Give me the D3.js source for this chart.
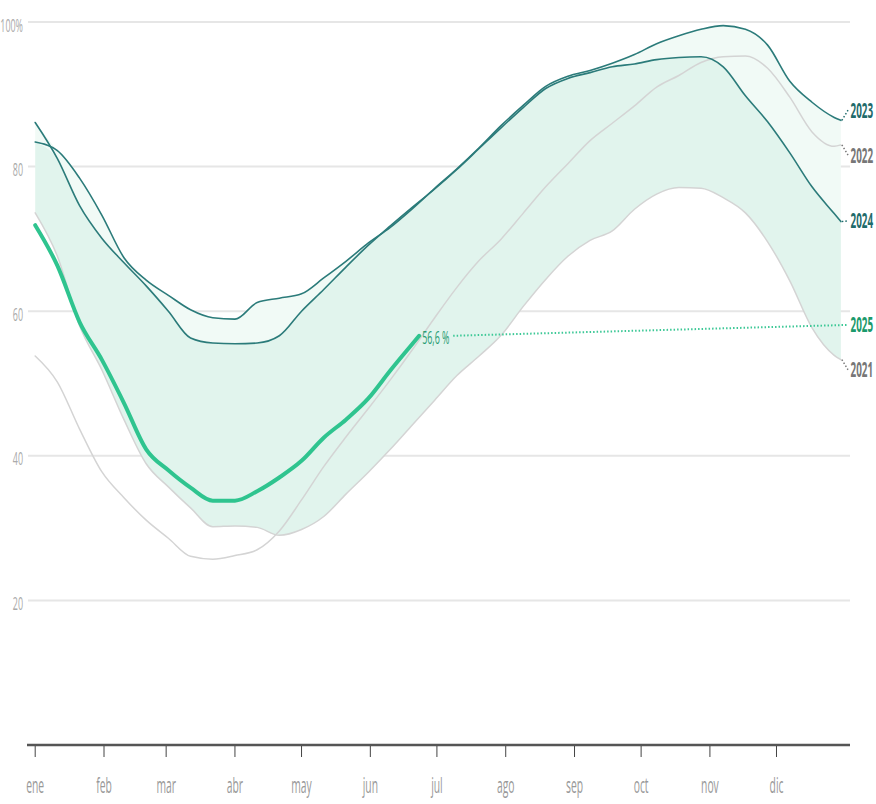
<!DOCTYPE html>
<html lang="es">
<head>
  <meta charset="utf-8">
  <title>Nivel de llenado</title>
  <script src="https://d3js.org/d3.v7.min.js"></script>
  <style>
    body { margin: 0; background: #fff; }
    svg text { font-family: "Open Sans", "DejaVu Sans", sans-serif; }
  </style>
</head>
<body>
<div id="chart"></div>
<script>
"use strict"
// dia del año de cada muestra
var days = [0,10,20,30,40,50,60,70,80,90,100,110,120,130,140,150,160,170,180,190,200,
            210,220,230,240,250,260,270,280,290,300,310,320,330,340,350,360,363]

var s2021 = [73.6,67.6,58.0,51.9,45.0,38.9,35.7,32.8,30.2,30.3,30.1,29.0,29.8,31.6,34.7,37.7,40.9,44.3,47.7,51.1,53.8,
             56.7,60.7,64.4,67.6,69.8,71.1,74.1,76.2,77.1,77.0,75.7,73.6,69.6,64.2,57.7,53.9,53.3]
var s2022 = [53.8,50.2,43.7,37.8,34.2,31.1,28.6,26.1,25.7,26.2,27.0,29.6,33.9,38.5,42.6,46.5,50.5,54.7,59.1,63.3,67.0,
             70.0,73.6,77.2,80.4,83.6,86.0,88.4,91.0,92.6,94.4,95.2,95.3,93.6,89.6,84.8,82.8,83.0]
var s2023 = [83.4,82.2,78.4,73.3,67.4,64.3,62.2,60.2,59.1,58.9,61.2,61.8,62.4,64.6,66.9,69.4,71.6,74.2,77.0,79.7,82.6,
             85.7,88.5,91.1,92.5,93.3,94.3,95.5,97.0,98.1,99.0,99.5,99.0,96.8,91.8,88.9,86.8,86.4]
var s2024 = [86.1,81.1,74.6,70.1,66.7,63.5,60.0,56.3,55.6,55.5,55.6,56.6,60.0,63.0,66.1,69.1,71.8,74.4,76.9,79.6,82.5,
             85.4,88.2,90.8,92.2,93.0,93.8,94.2,94.8,95.1,95.2,93.8,89.8,86.2,81.9,77.2,73.5,72.4]
// 2025 hasta el 22 de junio
var days2025 = [0,10,20,30,40,50,60,70,80,90,100,110,120,130,140,150,160,170,173]
var s2025 = [71.9,66.3,58.5,53.3,47.3,40.9,38.0,35.6,33.8,33.8,35.1,37.0,39.3,42.5,45.0,47.9,51.8,55.5,56.6]

var monthStarts = [0,31,59,90,120,151,181,212,243,273,304,334]
var monthNames = ["ene","feb","mar","abr","may","jun","jul","ago","sep","oct","nov","dic"]
var yTicks = [20,40,60,80,100]

var seriesLabels = ["2023","2022","2024","2025","2021"]
var labelValues = [87.8,81.6,72.5,58.1,51.9]

var width = 876, height = 804
var svg = d3.select("#chart").append("svg").attr("width", width).attr("height", height)

var x = d3.scaleLinear().domain([0, 365]).range([35.2, 845.3])
var y = d3.scaleLinear().domain([0, 100]).range([745, 22])

// texto estrecho (fuente condensada simulada)
var sx = 0.47
function narrow(sel, px, py) {
  return sel.attr("transform", "translate(" + px + "," + py + ") scale(" + sx + ",1)")
}

// rejilla
svg.append("g").selectAll("line").data(yTicks).enter().append("line")
  .attr("x1", 28).attr("x2", 850)
  .attr("y1", d => y(d)).attr("y2", d => y(d))
  .attr("stroke", "#e6e6e6").attr("stroke-width", 2)
svg.append("g").selectAll("text").data(yTicks).enter().append("text")
  .attr("transform", d => "translate(23," + (y(d) + 9.5) + ") scale(" + sx + ",1)")
  .attr("text-anchor", "end").attr("fill", "#aaa").style("font-size", "19px")
  .text(d => d == 100 ? "100%" : d)

// bandas
var rows = days.map((d, i) => ({
  d: d,
  lo: s2021[i],
  mid: Math.min(s2023[i], s2024[i]),
  hi: Math.max(s2023[i], s2024[i])
}))
var curve = d3.curveMonotoneX
svg.append("path").datum(rows)
  .attr("fill", "#e1f4ed")
  .attr("d", d3.area().curve(curve).x(r => x(r.d)).y0(r => y(r.lo)).y1(r => y(r.mid)))
svg.append("path").datum(rows)
  .attr("fill", "#f1faf6")
  .attr("d", d3.area().curve(curve).x(r => x(r.d)).y0(r => y(r.mid)).y1(r => y(r.hi)))

var line = d3.line().curve(curve).x(p => x(p[0])).y(p => y(p[1]))
function drawSeries(dd, vals, color, w) {
  svg.append("path").datum(dd.map((d, i) => [d, vals[i]]))
    .attr("fill", "none").attr("stroke", color).attr("stroke-width", w)
    .attr("stroke-linejoin", "round").attr("stroke-linecap", "round")
    .attr("d", line)
}
drawSeries(days, s2021, "#d4d4d4", 1.5)
drawSeries(days, s2022, "#d4d4d4", 1.5)
drawSeries(days, s2023, "#2b7b7a", 1.6)
drawSeries(days, s2024, "#2b7b7a", 1.6)
drawSeries(days2025, s2025, "#2fc48f", 4)

// etiqueta del último valor 2025
var lastD = days2025[days2025.length - 1], lastV = s2025[s2025.length - 1]
narrow(svg.append("text"), x(lastD) + 3, y(lastV) + 8.5)
  .attr("fill", "#2a9d74").style("font-size", "19px")
  .text(d3.format(".1f")(lastV).replace(".", ",") + " %")
svg.append("line")
  .attr("x1", x(lastD) + 34).attr("y1", y(lastV))
  .attr("x2", 847).attr("y2", y(labelValues[3]))
  .attr("stroke", "#3cc896").attr("stroke-width", 2).attr("stroke-dasharray", "1.5,2")

// etiquetas de años a la derecha
var lastIdx = days.length - 1
var endVals = { "2023": s2023[lastIdx], "2022": s2022[lastIdx], "2024": s2024[lastIdx], "2021": s2021[lastIdx] }
var labelColors = { "2023": "#1f6b6b", "2022": "#777", "2024": "#1f6b6b", "2025": "#1b9a6c", "2021": "#777" }
seriesLabels.forEach(function (lab, i) {
  if (lab != "2025") {
    svg.append("line")
      .attr("x1", x(days[lastIdx]) + 1).attr("y1", y(endVals[lab]))
      .attr("x2", 848).attr("y2", y(labelValues[i]))
      .attr("stroke", labelColors[lab]).attr("stroke-width", 1.5).attr("stroke-dasharray", "1.5,2")
  }
  narrow(svg.append("text"), 850.5, y(labelValues[i]) + 7.5)
    .attr("fill", labelColors[lab]).style("font-size", "21px").style("font-weight", "bold")
    .text(lab)
})

// eje x
var xAxis = svg.append("g")
xAxis.append("line").attr("x1", 27).attr("x2", 850).attr("y1", 745).attr("y2", 745)
  .attr("stroke", "#555").attr("stroke-width", 2.5)
xAxis.selectAll(".tick").data(monthStarts).enter().append("line")
  .attr("x1", d => x(d)).attr("x2", d => x(d)).attr("y1", 746).attr("y2", 757)
  .attr("stroke", "#444").attr("stroke-width", 1)
xAxis.selectAll("text").data(monthStarts).enter().append("text")
  .attr("transform", d => "translate(" + x(d) + ",793) scale(" + sx + ",1)")
  .attr("text-anchor", "middle").attr("fill", "#999").style("font-size", "22px")
  .text((d, i) => monthNames[i])
</script>
</body>
</html>
